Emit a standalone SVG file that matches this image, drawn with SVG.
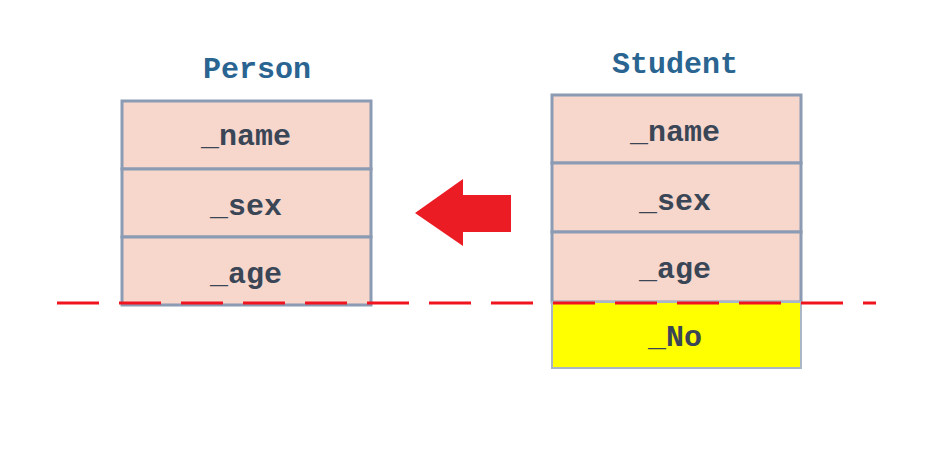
<svg xmlns="http://www.w3.org/2000/svg" width="944" height="459" viewBox="0 0 944 459">
<style>
.cell{fill:#f7d6cc;stroke:#8b9bb3;stroke-width:3}
.new{fill:#ffff00;stroke:#a9b6c8;stroke-width:2}
.f{font-family:"Liberation Mono","DejaVu Sans Mono",monospace;font-size:30px;font-weight:bold;fill:#3a4656;text-anchor:middle}
.t{font-family:"Liberation Mono","DejaVu Sans Mono",monospace;font-size:30px;font-weight:bold;fill:#2a6592;text-anchor:middle}
</style>
<rect width="944" height="459" fill="#ffffff"/>
<g id="person">
<text class="t" x="257" y="78">Person</text>
<rect class="cell" x="122" y="101" width="249" height="68"/>
<rect class="cell" x="122" y="169" width="249" height="68"/>
<rect class="cell" x="122" y="237" width="249" height="68"/>
<text class="f" x="246" y="145">_name</text>
<text class="f" x="246" y="215">_sex</text>
<text class="f" x="246" y="283">_age</text>
</g>
<g id="student">
<text class="t" x="675" y="73">Student</text>
<rect class="cell" x="552" y="95" width="249" height="68"/>
<rect class="cell" x="552" y="163" width="249" height="69"/>
<rect class="cell" x="552" y="232" width="249" height="70"/>
<rect class="new" x="552" y="302" width="249" height="66"/>
<text class="f" x="675" y="141">_name</text>
<text class="f" x="675" y="210">_sex</text>
<text class="f" x="675" y="278">_age</text>
<text class="f" x="675" y="346">_No</text>
</g>
<g id="connectors">
<polygon points="415,213 463,179 463,195 511,195 511,232 463,232 463,246" fill="#ec1c24"/>
<line x1="57" y1="303" x2="876" y2="303" stroke="#f0141e" stroke-width="3" stroke-dasharray="42 20"/>
</g>
</svg>
